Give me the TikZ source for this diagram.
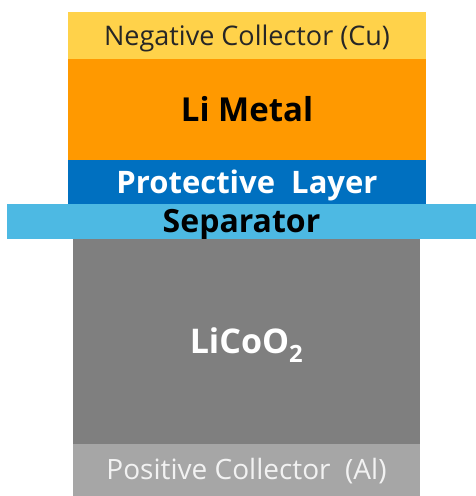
\documentclass[tikz,border=0pt]{standalone}
\usepackage{fontspec}
\setmainfont{Open Sans}
\usepackage{xcolor}
\definecolor{cugold}{RGB}{255,210,74}
\definecolor{liorange}{RGB}{255,153,0}
\definecolor{protblue}{RGB}{0,112,192}
\definecolor{sepblue}{RGB}{77,185,227}
\definecolor{cathgray}{RGB}{127,127,127}
\definecolor{algray}{RGB}{166,166,166}

\begin{document}
\begin{tikzpicture}[x=1pt,y=-1pt,
	layer/.style={inner sep=0pt,outer sep=0pt,text depth=0pt},
	txt/.style={font=\fontsize{#1}{#1}\selectfont,text height=\dimexpr #1pt*71/100\relax},
	boldtxt/.style={font=\fontsize{#1}{#1}\selectfont\bfseries,text height=\dimexpr #1pt*71/100\relax}]
	\useasboundingbox (0,0) rectangle (476,496);
	
	% Negative collector
	\node[layer,txt=27,fill=cugold,text=black!85,minimum width=358pt,minimum height=47pt] (negcol) at (247,35.5) {Negative Collector (Cu)};
	
	% Anode
	\node[layer,boldtxt=33,fill=liorange,text=black,minimum width=358pt,minimum height=101pt] (limetal) at (247,109.5) {Li Metal};
	\node[layer,boldtxt=31,fill=protblue,text=white,minimum width=358pt,minimum height=44pt] (protect) at (247,182) {Protective\ \ Layer};
	
	% Separator
	\node[layer,boldtxt=32,fill=sepblue,text=black,minimum width=469pt,minimum height=35pt] (sep) at (241.5,221.5) {Separator};
	
	% Cathode
	\node[layer,boldtxt=34,fill=cathgray,text=white,minimum width=347pt,minimum height=205pt] (cathode) at (246.5,341.5) {LiCoO\textsubscript{2}};
	
	% Positive collector
	\node[layer,txt=28,fill=algray,text=black!5,minimum width=347pt,minimum height=52pt] (poscol) at (246.5,470) {Positive Collector\ \ (Al)};
\end{tikzpicture}
\end{document}
